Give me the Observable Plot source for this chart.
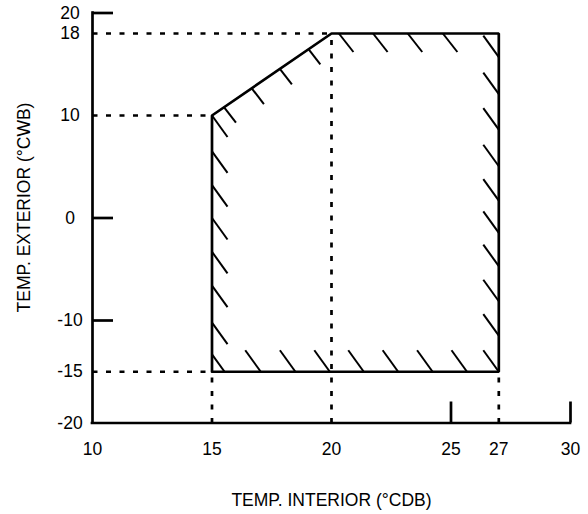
<!DOCTYPE html>
<html><head><meta charset="utf-8">
<script src="https://cdn.jsdelivr.net/npm/d3@7"></script>
<script src="https://cdn.jsdelivr.net/npm/@observablehq/plot@0.6"></script>
<style>html,body{margin:0;padding:0;background:#fff}</style>
</head><body><div id="chart"></div>
<script>
// ---- data ----
const xTicks = [10, 15, 20, 25, 27, 30];
const yTicks = [20, 18, 10, 0, -10, -15, -20];
const axisTicksX = [25, 30];
const axisTicksY = [20, 0, -10];
const boundaryX = [15, 15, 20, 27, 27, 15];
const boundaryY = [-15, 10, 18, 18, -15, -15];
const guideH = [{y: 18, x1: 10, x2: 20}, {y: 10, x1: 10, x2: 15}, {y: -15, x1: 10, x2: 15}];
const guideV = [{x: 15, y1: -20, y2: -15}, {x: 20, y1: -20, y2: 18}, {x: 27, y1: -20, y2: -15}];
// hatch anchors
const hatchLeftY = [10, 6.5, 3.2, 0, -3.3, -6.6, -10.2, -13.3];      // start on x = 15
const hatchSlantX = [15.5, 16.67, 17.84, 19.03];                      // start on slanted edge
const hatchSlantY = [10.81, 12.63, 14.55, 16.5];
const hatchTopX = [20.31, 21.74, 23.19, 24.66];                       // start on y = 18
const hatchRightY = [15.7, 12.08, 8.63, 5.05, 1.7, -1.45, -4.7, -8.12, -11.47]; // end on x = 27
const hatchBottomX = [17.04, 18.49, 19.93, 21.35, 22.79, 24.23, 25.67, 27];    // end on y = -15
const xTitle = "TEMP. INTERIOR (°CDB)";
const yTitle = "TEMP. EXTERIOR (°CWB)";

// ---- layout ----
const W = 588, H = 514, ML = 92, MR = 18, MT = 12.5, MB = 91.5;
const kx = 20 / (W - ML - MR), ky = 40 / (H - MT - MB);
const TICK = 21;
const vFull = [15.5, 21.5], vTop = [14.5, 18.5], vSlant = [12, 15.5];

function seg(x0, y0, v, mode) {
  const dx = v[0] * kx, dy = -v[1] * ky;
  let a = mode === "start" ? [x0, y0, x0 + dx, y0 + dy] : [x0 - dx, y0 - dy, x0, y0];
  if (a[3] < -15) { const t = (a[1] + 15) / (a[1] - a[3]); a[2] = a[0] + (a[2] - a[0]) * t; a[3] = -15; }
  return {x1: a[0], y1: a[1], x2: a[2], y2: a[3]};
}
const hatches = [
  ...hatchLeftY.map(y => seg(15, y, vFull, "start")),
  ...hatchSlantX.map((x, i) => seg(x, hatchSlantY[i], vSlant, "start")),
  ...hatchTopX.map(x => seg(x, 18, vTop, "start")),
  ...hatchRightY.map(y => seg(27, y, vFull, "end")),
  ...hatchBottomX.map(x => seg(x, -15, vFull, "end"))
];
const boundary = boundaryX.map((x, i) => ({x, y: boundaryY[i]}));

const ink = {stroke: "#000", strokeWidth: 2.7};
const chart = Plot.plot({
  width: W, height: H,
  marginLeft: ML, marginRight: MR, marginTop: MT, marginBottom: MB,
  x: {domain: [10, 30], axis: null},
  y: {domain: [-20, 20], axis: null},
  style: {fontFamily: "'Liberation Sans', Arial, sans-serif", color: "#000", background: "#fff", overflow: "visible"},
  marks: [
    Plot.link(guideH, {x1: "x1", x2: "x2", y1: "y", y2: "y", ...ink, strokeDasharray: "5,8.5"}),
    Plot.link(guideV, {x1: "x", x2: "x", y1: "y1", y2: "y2", ...ink, strokeDasharray: "5,8.5"}),
    Plot.ruleX([10], {y1: -20, y2: 20, ...ink, strokeLinecap: "square"}),
    Plot.ruleY([-20], {x1: 10, x2: 30, ...ink, strokeLinecap: "square"}),
    Plot.ruleY(axisTicksY, {x1: 10, x2: 10 + TICK * kx, ...ink}),
    Plot.ruleX(axisTicksX, {y1: -20, y2: -20 + TICK * ky, ...ink}),
    Plot.line(boundary, {x: "x", y: "y", ...ink, strokeLinejoin: "miter"}),
    Plot.link(hatches, {x1: "x1", y1: "y1", x2: "x2", y2: "y2", stroke: "#000", strokeWidth: 2}),
    Plot.text(xTicks, {x: d => d, text: d => String(d), frameAnchor: "bottom", lineAnchor: "middle", textAnchor: "middle", dy: 26.5, fontSize: 17.5, fill: "#000"}),
    Plot.text(yTicks, {y: d => d, text: d => String(d), frameAnchor: "left", lineAnchor: "middle", textAnchor: "middle", dx: -22.5, fontSize: 17.5, fill: "#000"}),
    Plot.text([xTitle], {text: d => d, frameAnchor: "bottom", lineAnchor: "middle", textAnchor: "middle", dy: 77, fontSize: 17.5, fill: "#000"}),
    Plot.text([yTitle], {text: d => d, frameAnchor: "left", lineAnchor: "middle", textAnchor: "middle", dx: -68.5, dy: -10.5, rotate: -90, fontSize: 17.5, fill: "#000"})
  ]
});
document.getElementById("chart").appendChild(chart);
</script>
</body></html>
